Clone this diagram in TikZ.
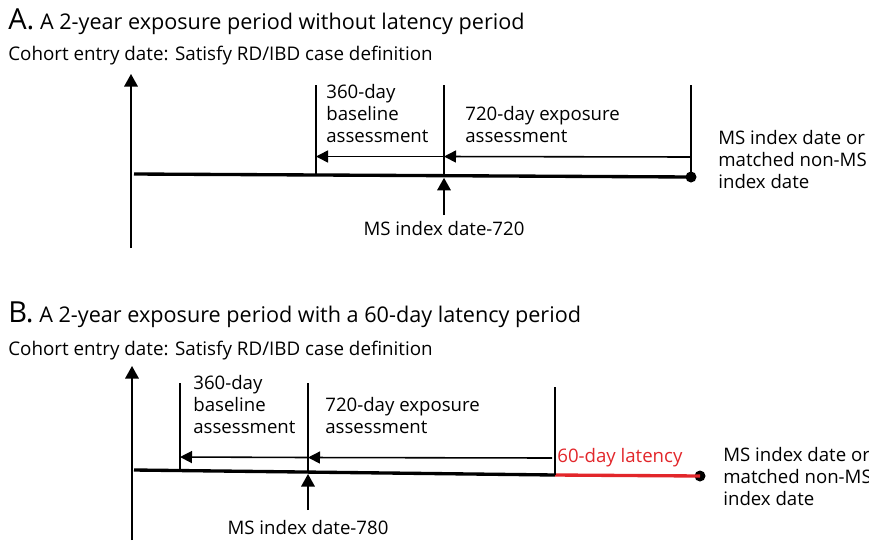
\documentclass[tikz,border=0pt]{standalone}
\usepackage{fontspec}
\setmainfont{Open Sans}
\usetikzlibrary{arrows.meta}
\definecolor{latred}{RGB}{226,38,42}
\tikzset{
	txt/.style={inner sep=0pt, align=left, anchor=base west, font=\fontsize{10.6}{12.5}\selectfont},
	ttl/.style={inner sep=0pt, anchor=base west, font=\fontsize{12.3}{14}\selectfont},
	cohort/.style={inner sep=0pt, anchor=base west, font=\fontsize{10.7}{13}\selectfont},
	axis/.style={line width=0.9pt, -{Triangle[length=0.25cm, width=0.27cm]}},
	span/.style={line width=0.9pt, -{Triangle[length=0.24cm, width=0.24cm]}},
	tickline/.style={line width=0.9pt},
	timeline/.style={line width=1.9pt},
	enddot/.style={circle, fill, inner sep=0pt, minimum size=0.22cm},
}

\begin{document}
\begin{tikzpicture}[x=0.02cm, y=-0.02cm]
	\useasboundingbox (0,0) rectangle (869,542);
	
	\node[ttl](TA) at (8,29){{\fontsize{16.5}{18}\selectfont A.} A 2-year exposure period without latency period};
	\node[cohort](CA) at (8,60){Cohort entry date: Satisfy RD/IBD case definition};
	
	\coordinate(AB) at (131,248);
	\coordinate(AT) at (131,74);
	\draw[axis] (AB) -- (AT);
	
	\coordinate(A0) at (134,174);
	\coordinate(A1) at (316,174.5);
	\coordinate(A2) at (444,175.3);
	\node[enddot](A3) at (691,177){};
	\draw[timeline] (A0) -- (A3.center);
	
	\coordinate(A1t) at (316,85);
	\coordinate(A2t) at (444,85);
	\coordinate(A3t) at (691,85);
	\draw[tickline] (A1t) -- (A1);
	\draw[tickline] (A2t) -- (A2);
	\draw[tickline] (A3t) -- (A3.center);
	
	\coordinate(A1a) at (316,156.5);
	\coordinate(A2a) at (444,156.5);
	\coordinate(A3a) at (691,157);
	\draw[span] (A3a) -- (A2a);
	\draw[span] (A2a) -- (A1a);
	
	\node[txt](LA1) at (326,142){360-day\\baseline\\assessment};
	\node[txt](LA2) at (465,142){720-day exposure\\assessment};
	\node[txt](LA3) at (718,188){MS index date or\\matched non-MS\\index date};
	
	\node[txt, anchor=base](LA) at (444,235){MS index date-720};
	\draw[axis, shorten <=0.11cm, shorten >=0.05cm] (LA) -- (A2);
	
	
	\node[ttl](TB) at (8,322){{\fontsize{16.5}{18}\selectfont B.} A 2-year exposure period with a 60-day latency period};
	\node[cohort](CB) at (8,355){Cohort entry date: Satisfy RD/IBD case definition};
	
	\coordinate(BB) at (132,540);
	\coordinate(BT) at (132,366);
	\draw[axis] (BB) -- (BT);
	
	\coordinate(B0) at (134,470);
	\coordinate(B1) at (180,470.3);
	\coordinate(B2) at (308,471.5);
	\coordinate(B3) at (555,475);
	\node[enddot](B4) at (700,476){};
	\draw[timeline] (B0) -- (B3);
	\draw[timeline, latred] (B3) -- (B4.center);
	
	\coordinate(B1t) at (180,383);
	\coordinate(B2t) at (308,383);
	\coordinate(B3t) at (555,387);
	\draw[tickline] (B1t) -- (B1);
	\draw[tickline] (B2t) -- (B2);
	\draw[tickline] (B3t) -- (B3);
	
	\coordinate(B1a) at (180,457);
	\coordinate(B2a) at (308,457.5);
	\coordinate(B3a) at (552,458);
	\draw[span] (B3a) -- (B2a);
	\draw[span] (B2a) -- (B1a);
	
	\node[txt](LB1) at (193,433){360-day\\baseline\\assessment};
	\node[txt](LB2) at (325,433){720-day exposure\\assessment};
	\node[txt, text=latred](LB4) at (557,462){60-day latency};
	\node[txt](LB3) at (723,505){MS index date or\\matched non-MS\\index date};
	
	\node[txt, anchor=base](LB) at (308,534){MS index date-780};
	\draw[axis, shorten <=0.19cm, shorten >=0.05cm] (LB) -- (B2);
\end{tikzpicture}
\end{document}
